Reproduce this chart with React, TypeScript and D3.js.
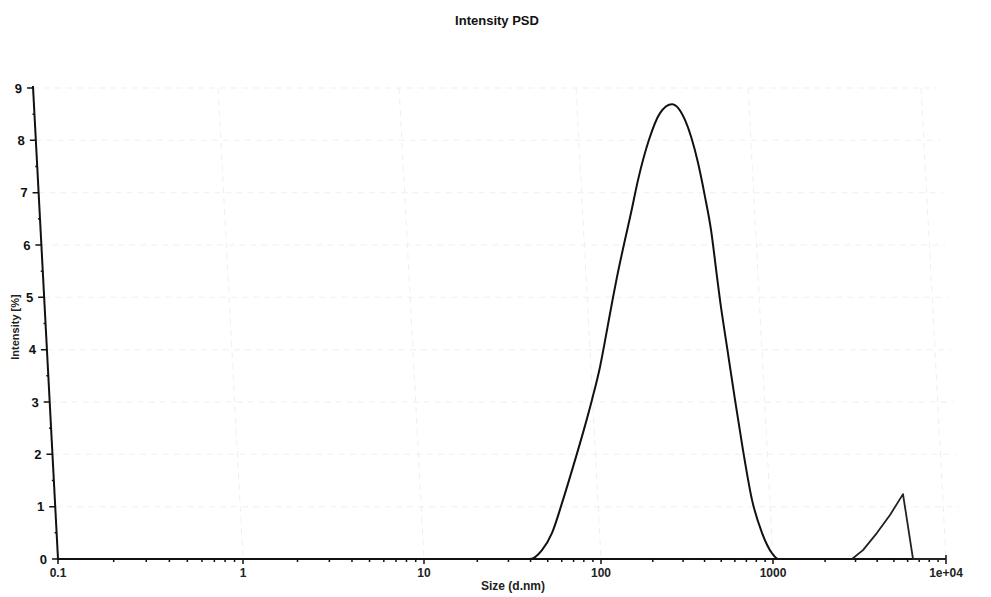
import React, { useEffect, useRef } from "react";
import * as d3 from "d3";

// main population
const sizesMain = [0.1, 39.7, 46.4, 52.9, 61.0, 69.5, 79.1, 88.9, 98.7, 107.6, 116.7, 123.9, 137.9, 149.4, 164.1, 190.1, 220.3, 258.7, 307.8, 366.4, 402.5, 436.1, 472.6, 491.8, 543.8, 601.4, 669.2, 755.0, 863.0, 986.7, 1069, 2862];
const intensMain = [0, 0, 0.17, 0.5, 1.13, 1.76, 2.41, 3.04, 3.67, 4.32, 4.95, 5.39, 6.1, 6.61, 7.24, 8.01, 8.52, 8.69, 8.39, 7.57, 6.92, 6.29, 5.39, 4.95, 3.99, 3.04, 2.08, 1.13, 0.5, 0.11, 0, 0];
// large-size population
const sizesLarge = [2862, 3313, 3993, 4746, 5642, 6447, 10000];
const intensLarge = [0, 0.17, 0.5, 0.84, 1.24, 0, 0];

const xDecades = [0.1, 1, 10, 100, 1000, 10000];
const xTickLabels = ["0.1", "1", "10", "100", "1000", "1e+04"];
const yTicks = [0, 1, 2, 3, 4, 5, 6, 7, 8, 9];

const W = 991;
const H = 597;

export default function App() {
  const ref = useRef<SVGSVGElement | null>(null);

  useEffect(() => {
    const svg = d3.select(ref.current);
    svg.selectAll("*").remove();

    const x = d3.scaleLog().domain(xDecades).range([58, 243, 424, 601, 773, 946]);
    const y = d3.scaleLinear().domain([0, 9]).range([559, 88]);
    const font = "'Liberation Sans', Arial, sans-serif";

    svg.append("rect").attr("width", W).attr("height", H).attr("fill", "#fff");

    const skewT = "translate(58,559) skewX(3.03) translate(-58,-559)";

    // faint grid
    const grid = svg.append("g").attr("transform", skewT).attr("stroke", "#efefef").attr("stroke-width", 1).attr("stroke-dasharray", "6,5");
    yTicks.filter(t => t > 0).forEach(t => {
      grid.append("line").attr("x1", 58).attr("x2", 962).attr("y1", y(t)).attr("y2", y(t));
    });
    xDecades.slice(1).forEach(d => {
      grid.append("line").attr("x1", x(d)).attr("x2", x(d)).attr("y1", 88).attr("y2", 559);
    });

    // y axis (slanted like the scan)
    const ya = svg.append("g").attr("transform", skewT);
    ya.append("line").attr("x1", 58).attr("x2", 58).attr("y1", 86).attr("y2", 560)
      .attr("stroke", "#111").attr("stroke-width", 2);
    yTicks.forEach(t => {
      ya.append("line").attr("x1", 52).attr("x2", 58).attr("y1", y(t)).attr("y2", y(t))
        .attr("stroke", "#111").attr("stroke-width", 1.5);
      ya.append("text").attr("x", 47).attr("y", y(t)).attr("dy", "0.36em")
        .attr("text-anchor", "end").attr("font-family", font).attr("font-size", 13)
        .attr("font-weight", "bold").attr("fill", "#111").text(String(t));
      if (t < 9) {
        ya.append("line").attr("x1", 56).attr("x2", 58).attr("y1", y(t + 0.5)).attr("y2", y(t + 0.5))
          .attr("stroke", "#111").attr("stroke-width", 1.5);
      }
    });

    // x axis
    const xa = svg.append("g");
    xa.append("line").attr("x1", 58).attr("x2", 946).attr("y1", 559).attr("y2", 559)
      .attr("stroke", "#111").attr("stroke-width", 2);
    xDecades.forEach((d, i) => {
      xa.append("line").attr("x1", x(d)).attr("x2", x(d)).attr("y1", 559).attr("y2", 564)
        .attr("stroke", "#111").attr("stroke-width", 1.5);
      xa.append("text").attr("x", x(d)).attr("y", 577).attr("text-anchor", "middle")
        .attr("font-family", font).attr("font-size", 12).attr("font-weight", "bold")
        .attr("fill", "#222").text(xTickLabels[i]);
      if (i < xDecades.length - 1) {
        for (let m = 2; m <= 9; m++) {
          const v = d * m;
          xa.append("line").attr("x1", x(v)).attr("x2", x(v)).attr("y1", 559).attr("y2", 562)
            .attr("stroke", "#111").attr("stroke-width", 1.5);
        }
      }
    });
    xa.append("line").attr("x1", 946).attr("x2", 946).attr("y1", 555).attr("y2", 559)
      .attr("stroke", "#111").attr("stroke-width", 1.5);

    // curves
    const mainPts = sizesMain.map((s, i) => [s, intensMain[i]] as [number, number]);
    const largePts = sizesLarge.map((s, i) => [s, intensLarge[i]] as [number, number]);
    const smooth = d3.line<[number, number]>().x(d => x(d[0])).y(d => y(d[1])).curve(d3.curveMonotoneX);
    const straight = d3.line<[number, number]>().x(d => x(d[0])).y(d => y(d[1])).curve(d3.curveLinear);
    svg.append("path").attr("d", smooth(mainPts) || "").attr("fill", "none")
      .attr("stroke", "#111").attr("stroke-width", 2).attr("stroke-linejoin", "round");
    svg.append("path").attr("d", straight(largePts) || "").attr("fill", "none")
      .attr("stroke", "#222").attr("stroke-width", 1.8).attr("stroke-linejoin", "round");

    // titles
    svg.append("text").attr("x", 497).attr("y", 25).attr("text-anchor", "middle")
      .attr("font-family", font).attr("font-size", 13).attr("font-weight", "bold")
      .attr("fill", "#111").text("Intensity PSD");
    svg.append("text").attr("x", 513).attr("y", 590).attr("text-anchor", "middle")
      .attr("font-family", font).attr("font-size", 12).attr("font-weight", "bold")
      .attr("fill", "#222").text("Size (d.nm)");
    svg.append("text").attr("transform", "translate(19,327) rotate(-90)").attr("text-anchor", "middle")
      .attr("font-family", font).attr("font-size", 11).attr("font-weight", "bold")
      .attr("fill", "#222").text("Intensity [%]");
  }, []);

  return (
    <svg ref={ref} width={W} height={H} style={{ position: "absolute", left: 0, top: 0, display: "block" }} />
  );
}
